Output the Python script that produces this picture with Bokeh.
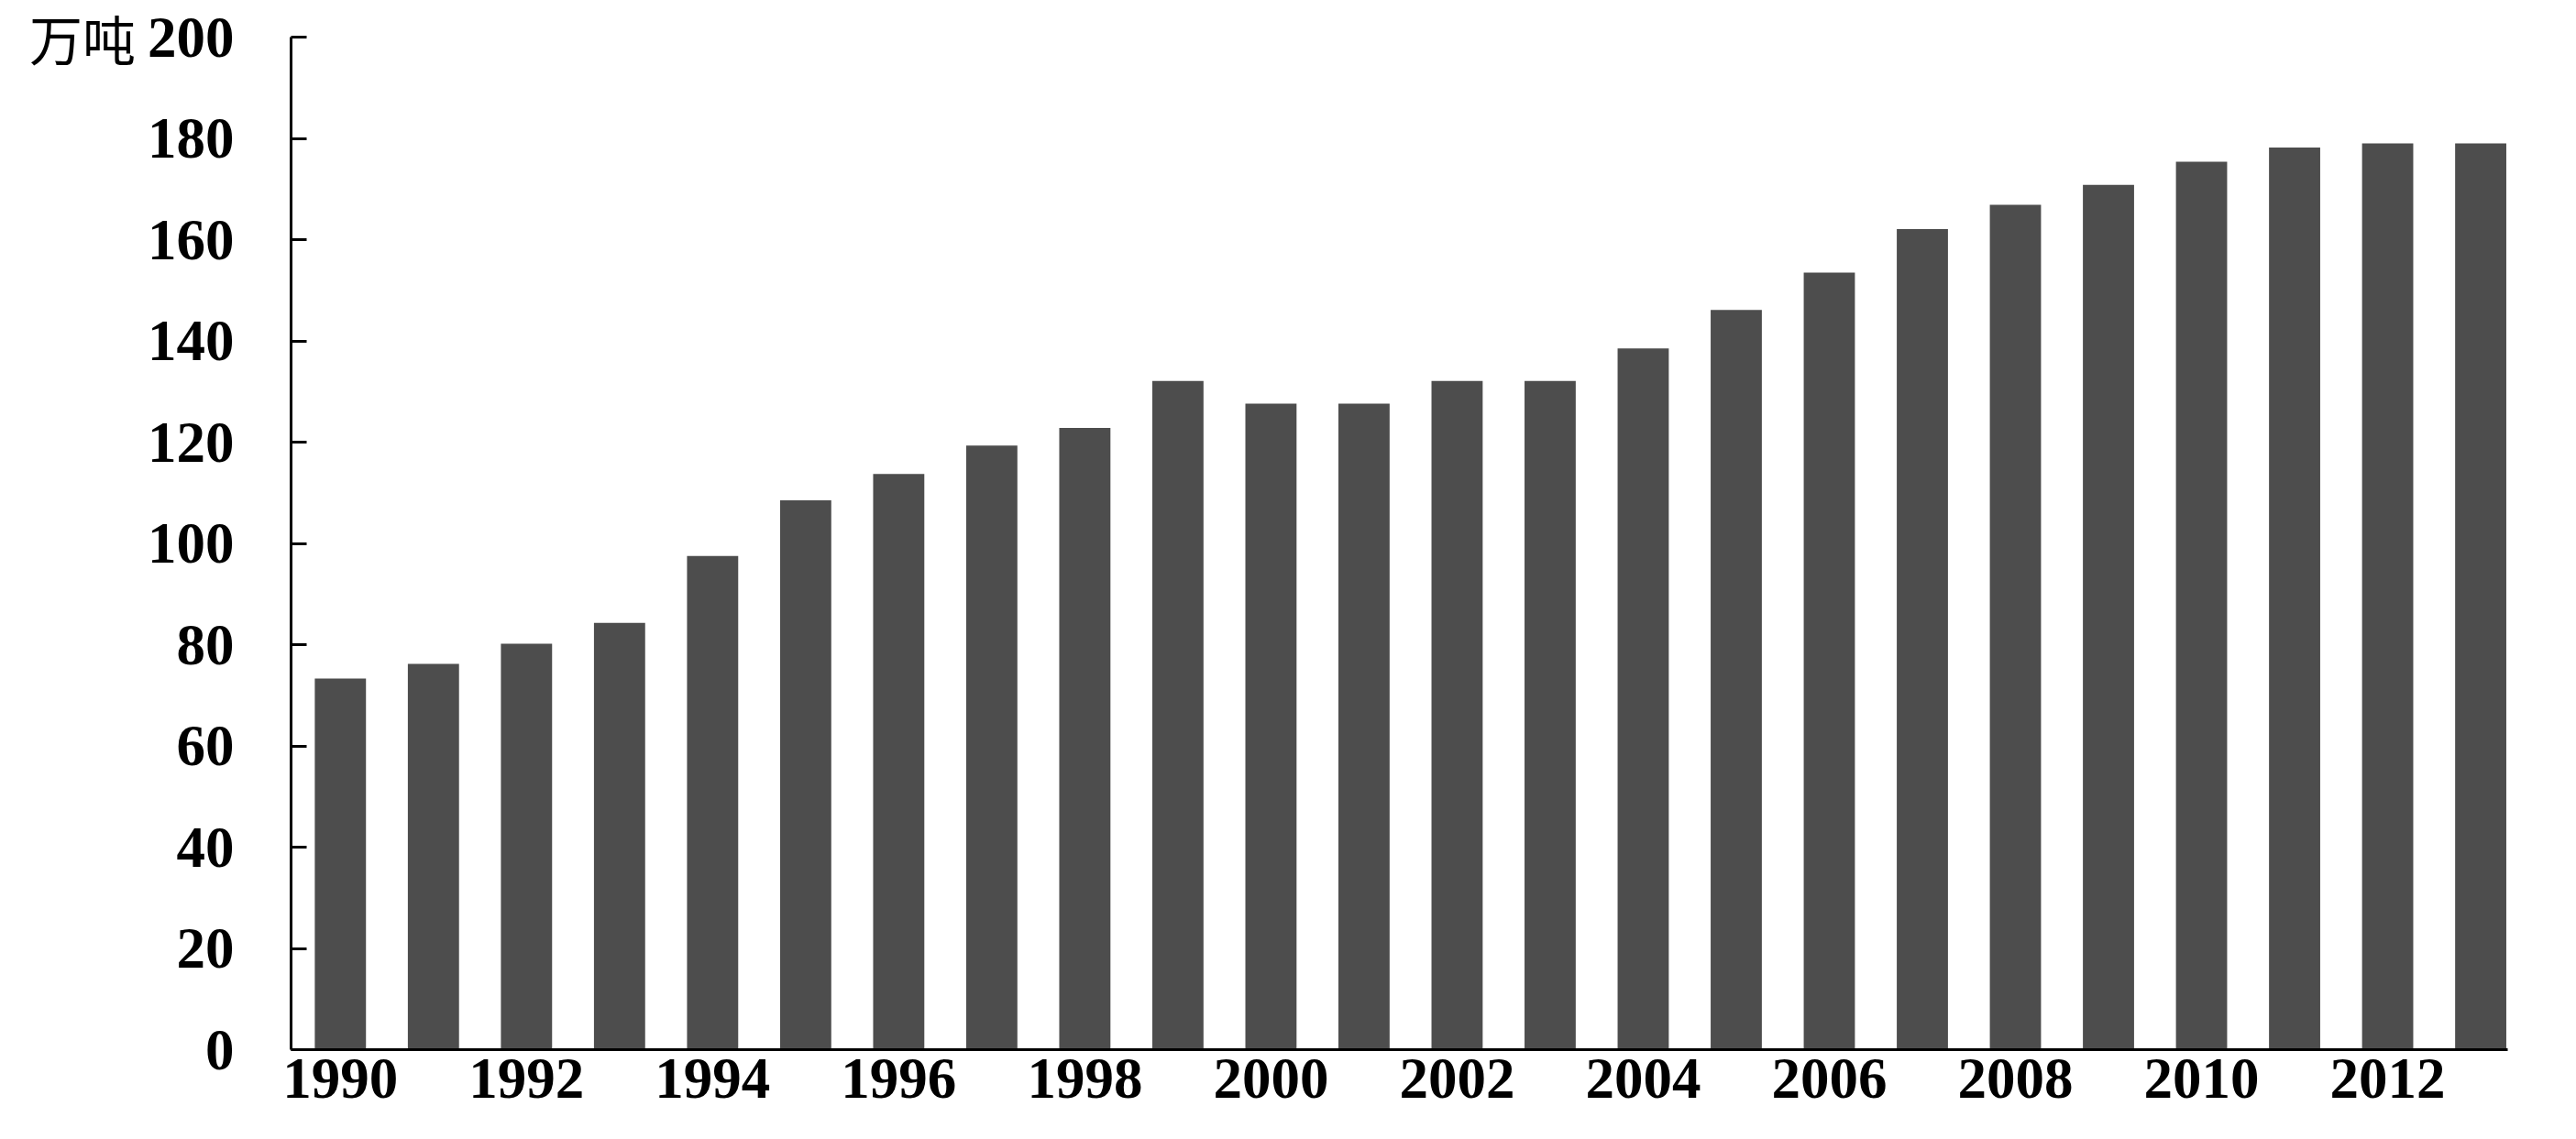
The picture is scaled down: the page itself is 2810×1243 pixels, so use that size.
from bokeh.plotting import figure
from bokeh.models import FixedTicker, Range1d
from bokeh.embed import file_html
from bokeh.resources import INLINE

years = list(range(1990, 2014))
values = [73.3, 76.2, 80.2, 84.3, 97.5, 108.5, 113.7, 119.3, 122.8, 132.1,
          127.6, 127.6, 132.1, 132.1, 138.5, 146.1, 153.5, 162.1, 166.9, 170.8,
          175.4, 178.2, 179.0, 179.0]
x_ticks = list(range(1990, 2013, 2))
y_ticks = list(range(0, 201, 20))
unit_label = "万吨"

W, H = 2794, 1227
p = figure(width=W, height=H, output_backend="svg", toolbar_location=None,
           x_range=Range1d(1989.47, 2013.29), y_range=Range1d(0, 200),
           min_border_left=317, min_border_right=59, min_border_top=40,
           min_border_bottom=82)
p.outline_line_color = None
p.grid.visible = False
p.background_fill_color = "white"

p.vbar(x=years, top=values, width=0.55, bottom=0, fill_color="#4d4d4d",
       line_color=None)

num_font = "Liberation Serif"
for ax in (p.xaxis[0], p.yaxis[0]):
    ax.axis_line_color = "black"
    ax.axis_line_width = 3
    ax.minor_tick_line_color = None
    ax.major_label_text_font = num_font
    ax.major_label_text_font_style = "bold"
    ax.major_label_text_font_size = "63px"
    ax.major_label_text_color = "black"

p.xaxis.ticker = FixedTicker(ticks=x_ticks)
p.xaxis.major_tick_line_color = None
p.xaxis.major_label_standoff = 4

p.yaxis.ticker = FixedTicker(ticks=y_ticks)
p.yaxis.major_tick_in = 17
p.yaxis.major_tick_out = 0
p.yaxis.major_tick_line_width = 3
p.yaxis.major_tick_line_color = "black"
p.yaxis.major_label_standoff = 62

p.yaxis.axis_label = unit_label
p.yaxis.axis_label_orientation = "horizontal"
p.yaxis.axis_label_align = "end"
p.yaxis.axis_label_standoff = 10
p.yaxis.axis_label_text_font = "Noto Sans CJK SC"
p.yaxis.axis_label_text_font_style = "normal"
p.yaxis.axis_label_text_font_size = "58px"
p.yaxis.axis_label_text_color = "black"

open("out.html", "w").write(file_html(p, INLINE))
